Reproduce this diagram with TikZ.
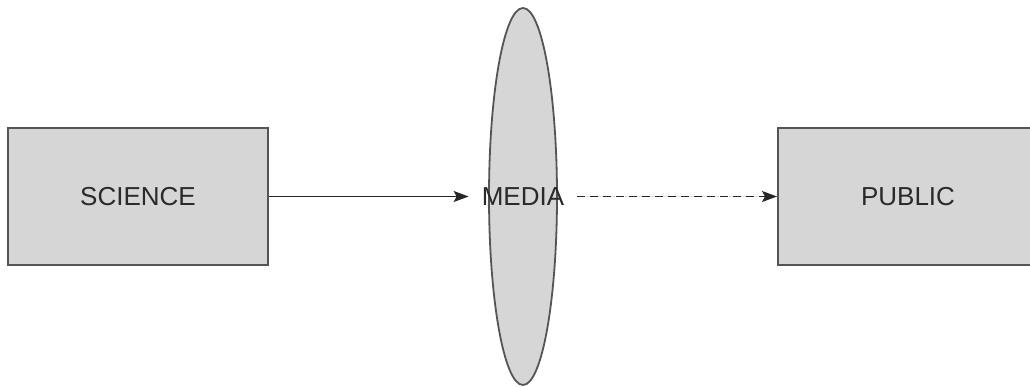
\documentclass[tikz,border=0pt]{standalone}
\usepackage{fontspec}
\setmainfont{Liberation Sans}
\usetikzlibrary{shapes.geometric, arrows.meta}
\definecolor{boxfill}{HTML}{D6D6D6}
\definecolor{boxline}{HTML}{555555}
\definecolor{labelgray}{HTML}{2A2A2A}
\begin{document}
\begin{tikzpicture}[
  x=1pt, y=1pt,
  box/.style={draw=boxline, fill=boxfill, line width=2pt, minimum width=260pt, minimum height=137pt, inner sep=0pt,
    font=\fontsize{26}{30}\selectfont, text=labelgray},
  lens/.style={ellipse, draw=boxline, fill=boxfill, line width=1.8pt, minimum width=68pt, minimum height=377pt, inner sep=0pt},
  arr/.style={-{Stealth[length=15pt, width=11pt, inset=3pt]}, line width=1.3pt, draw=black!85, fill=black!85},
  darr/.style={arr, dash pattern=on 8pt off 5pt}
]
\useasboundingbox (0,0) rectangle (1030,-387);
\begin{scope}
\clip (0,0) rectangle (1030,-387);
\node[box] (science) at (138,-196.5) {SCIENCE};
\node[box] (public) at (908,-196.5) {PUBLIC};
\node[lens] (media) at (523,-196.5) {};
\end{scope}
\node[font=\fontsize{26}{30}\selectfont, text=labelgray, inner xsep=13pt] (medialbl) at (523,-196.5) {MEDIA};

\draw[arr] (science) -- (medialbl);
\draw[darr] (medialbl) -- (public);
\end{tikzpicture}
\end{document}
